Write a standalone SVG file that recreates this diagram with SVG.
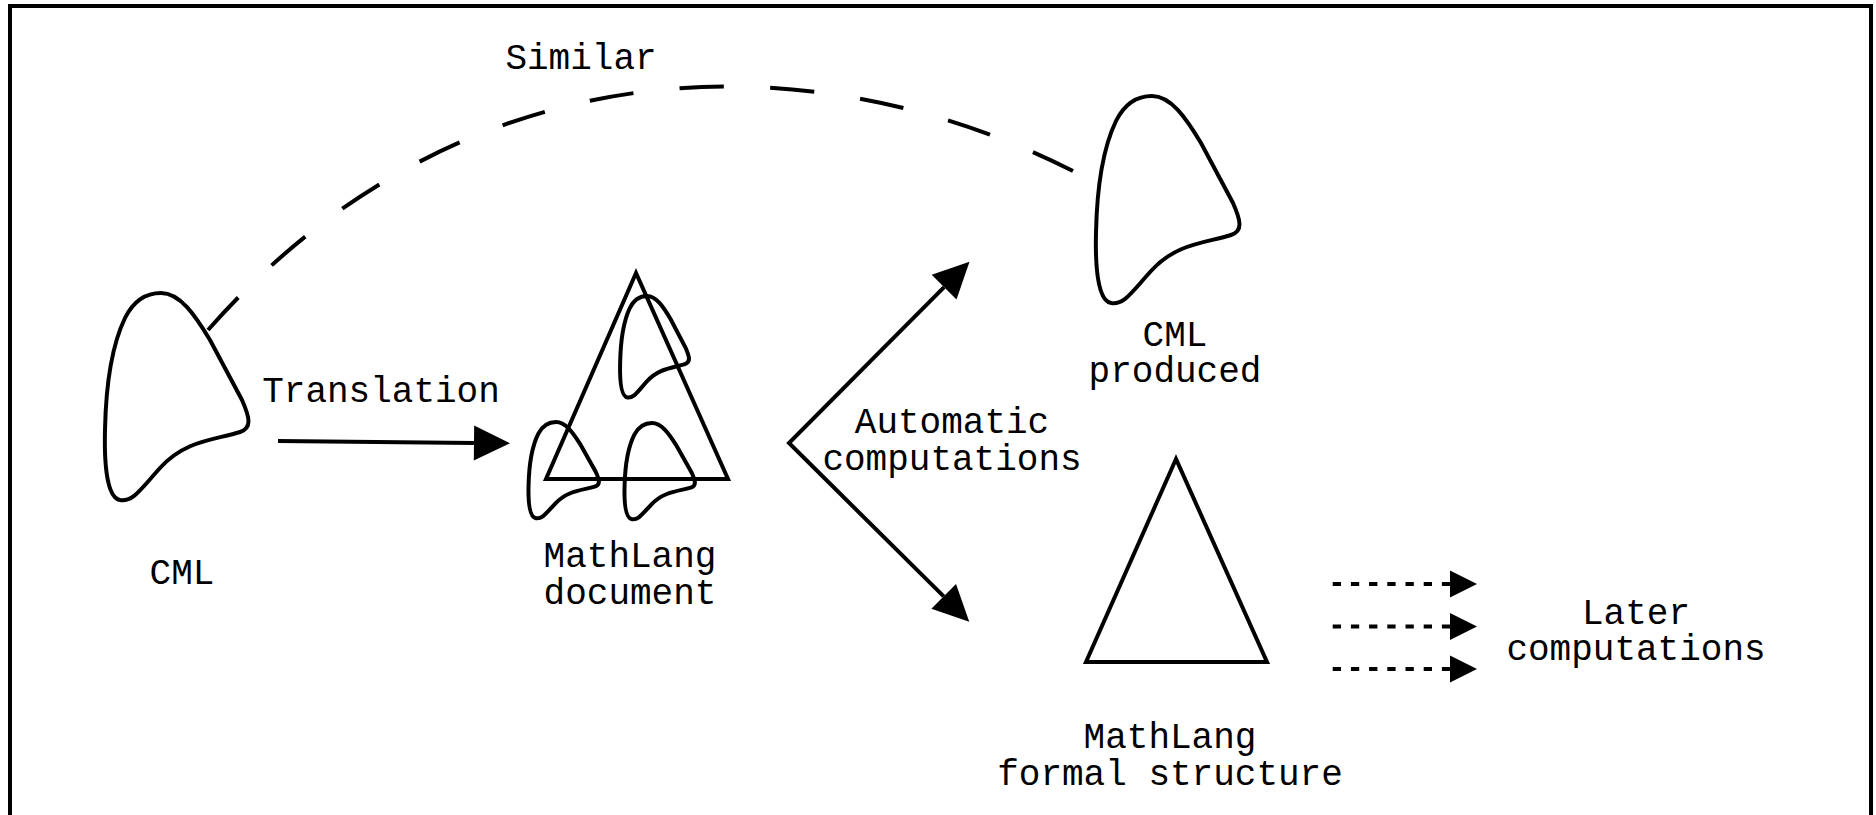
<svg xmlns="http://www.w3.org/2000/svg" xmlns:xlink="http://www.w3.org/1999/xlink" width="1876" height="815" viewBox="0 0 1876 815">
  <style>
    .ln { fill: none; stroke: #000; stroke-width: 4; }
    .shape { fill: none; stroke: #000; stroke-width: 4; stroke-linejoin: miter; }
    .lbl { font-family: "Liberation Mono", "Courier New", monospace; font-size: 36px; fill: #000; text-anchor: middle; }
  </style>
  <defs>
    <path id="blob" vector-effect="non-scaling-stroke" d="M 0,0 C 19,0 34,22 49,47 L 81,107 C 89,125 91,135 79,139 C 54,147 24,147 -1,175 C -21,197 -28,209 -41,207 C -53,205 -57,177 -56,137 C -55,87 -49,52 -36,25 C -26,5 -13,0 0,0 Z"/>
    <marker id="ah" markerUnits="userSpaceOnUse" markerWidth="40" markerHeight="40" refX="0" refY="17.5" orient="auto" overflow="visible">
      <path d="M0,0 L36,17.5 L0,35 Z" fill="#000"/>
    </marker>
    <marker id="ahs" markerUnits="userSpaceOnUse" markerWidth="40" markerHeight="40" refX="0" refY="17.5" orient="auto-start-reverse" overflow="visible">
      <path d="M0,0 L36,17.5 L0,35 Z" fill="#000"/>
    </marker>
    <marker id="ahsm" markerUnits="userSpaceOnUse" markerWidth="30" markerHeight="30" refX="0" refY="13.5" orient="auto" overflow="visible">
      <path d="M0,0 L27,13.5 L0,27 Z" fill="#000"/>
    </marker>
  </defs>

  <rect width="1876" height="815" fill="#fff"/>
  <path class="ln" d="M10,815 V6 H1871 V815"/>

  <g id="node-cml">
    <use xlink:href="#blob" href="#blob" class="shape" transform="translate(161,293)"/>
    <text class="lbl" x="182" y="584">CML</text>
  </g>

  <g id="node-mathlang-document">
    <path class="shape" d="M636,273 L546,479 L728,479 Z"/>
    <use xlink:href="#blob" href="#blob" class="shape" transform="translate(647,296) scale(0.48,0.49)"/>
    <use xlink:href="#blob" href="#blob" class="shape" transform="translate(556,422) scale(0.49,0.465)"/>
    <use xlink:href="#blob" href="#blob" class="shape" transform="translate(652,423) scale(0.49,0.465)"/>
    <text class="lbl" x="630" y="567">MathLang</text>
    <text class="lbl" x="630" y="604">document</text>
  </g>

  <g id="node-cml-produced">
    <use xlink:href="#blob" href="#blob" class="shape" transform="translate(1152,96)"/>
    <text class="lbl" x="1175" y="346">CML</text>
    <text class="lbl" x="1175" y="382">produced</text>
  </g>

  <g id="node-mathlang-formal">
    <path class="shape" d="M1176,459 L1086,662 L1267,662 Z"/>
    <text class="lbl" x="1170" y="748">MathLang</text>
    <text class="lbl" x="1170" y="785">formal structure</text>
  </g>

  <g id="node-later">
    <text class="lbl" x="1636" y="624">Later</text>
    <text class="lbl" x="1636" y="660">computations</text>
  </g>

  <g id="connectors">
    <path class="ln" stroke-width="4.5" stroke-dasharray="44 46" pathLength="944" d="M208,330 C459,45 806,36 1073,171"/>
    <text class="lbl" x="581" y="69">Similar</text>

    <path class="ln" marker-end="url(#ah)" d="M278,441 L474,443"/>
    <text class="lbl" x="381" y="402">Translation</text>

    <path class="ln" stroke-linejoin="miter" marker-start="url(#ahs)" marker-end="url(#ah)" d="M944.1,287.2 L789,443 L943.7,596.4"/>
    <text class="lbl" x="952" y="433">Automatic</text>
    <text class="lbl" x="952" y="470">computations</text>

    <path class="ln" stroke-width="4.5" stroke-dasharray="8.3 9.9" marker-end="url(#ahsm)" d="M1332.7,584 H1450"/>
    <path class="ln" stroke-width="4.5" stroke-dasharray="8.3 9.9" marker-end="url(#ahsm)" d="M1332.7,626.5 H1450"/>
    <path class="ln" stroke-width="4.5" stroke-dasharray="8.3 9.9" marker-end="url(#ahsm)" d="M1332.7,669 H1450"/>
  </g>
</svg>
